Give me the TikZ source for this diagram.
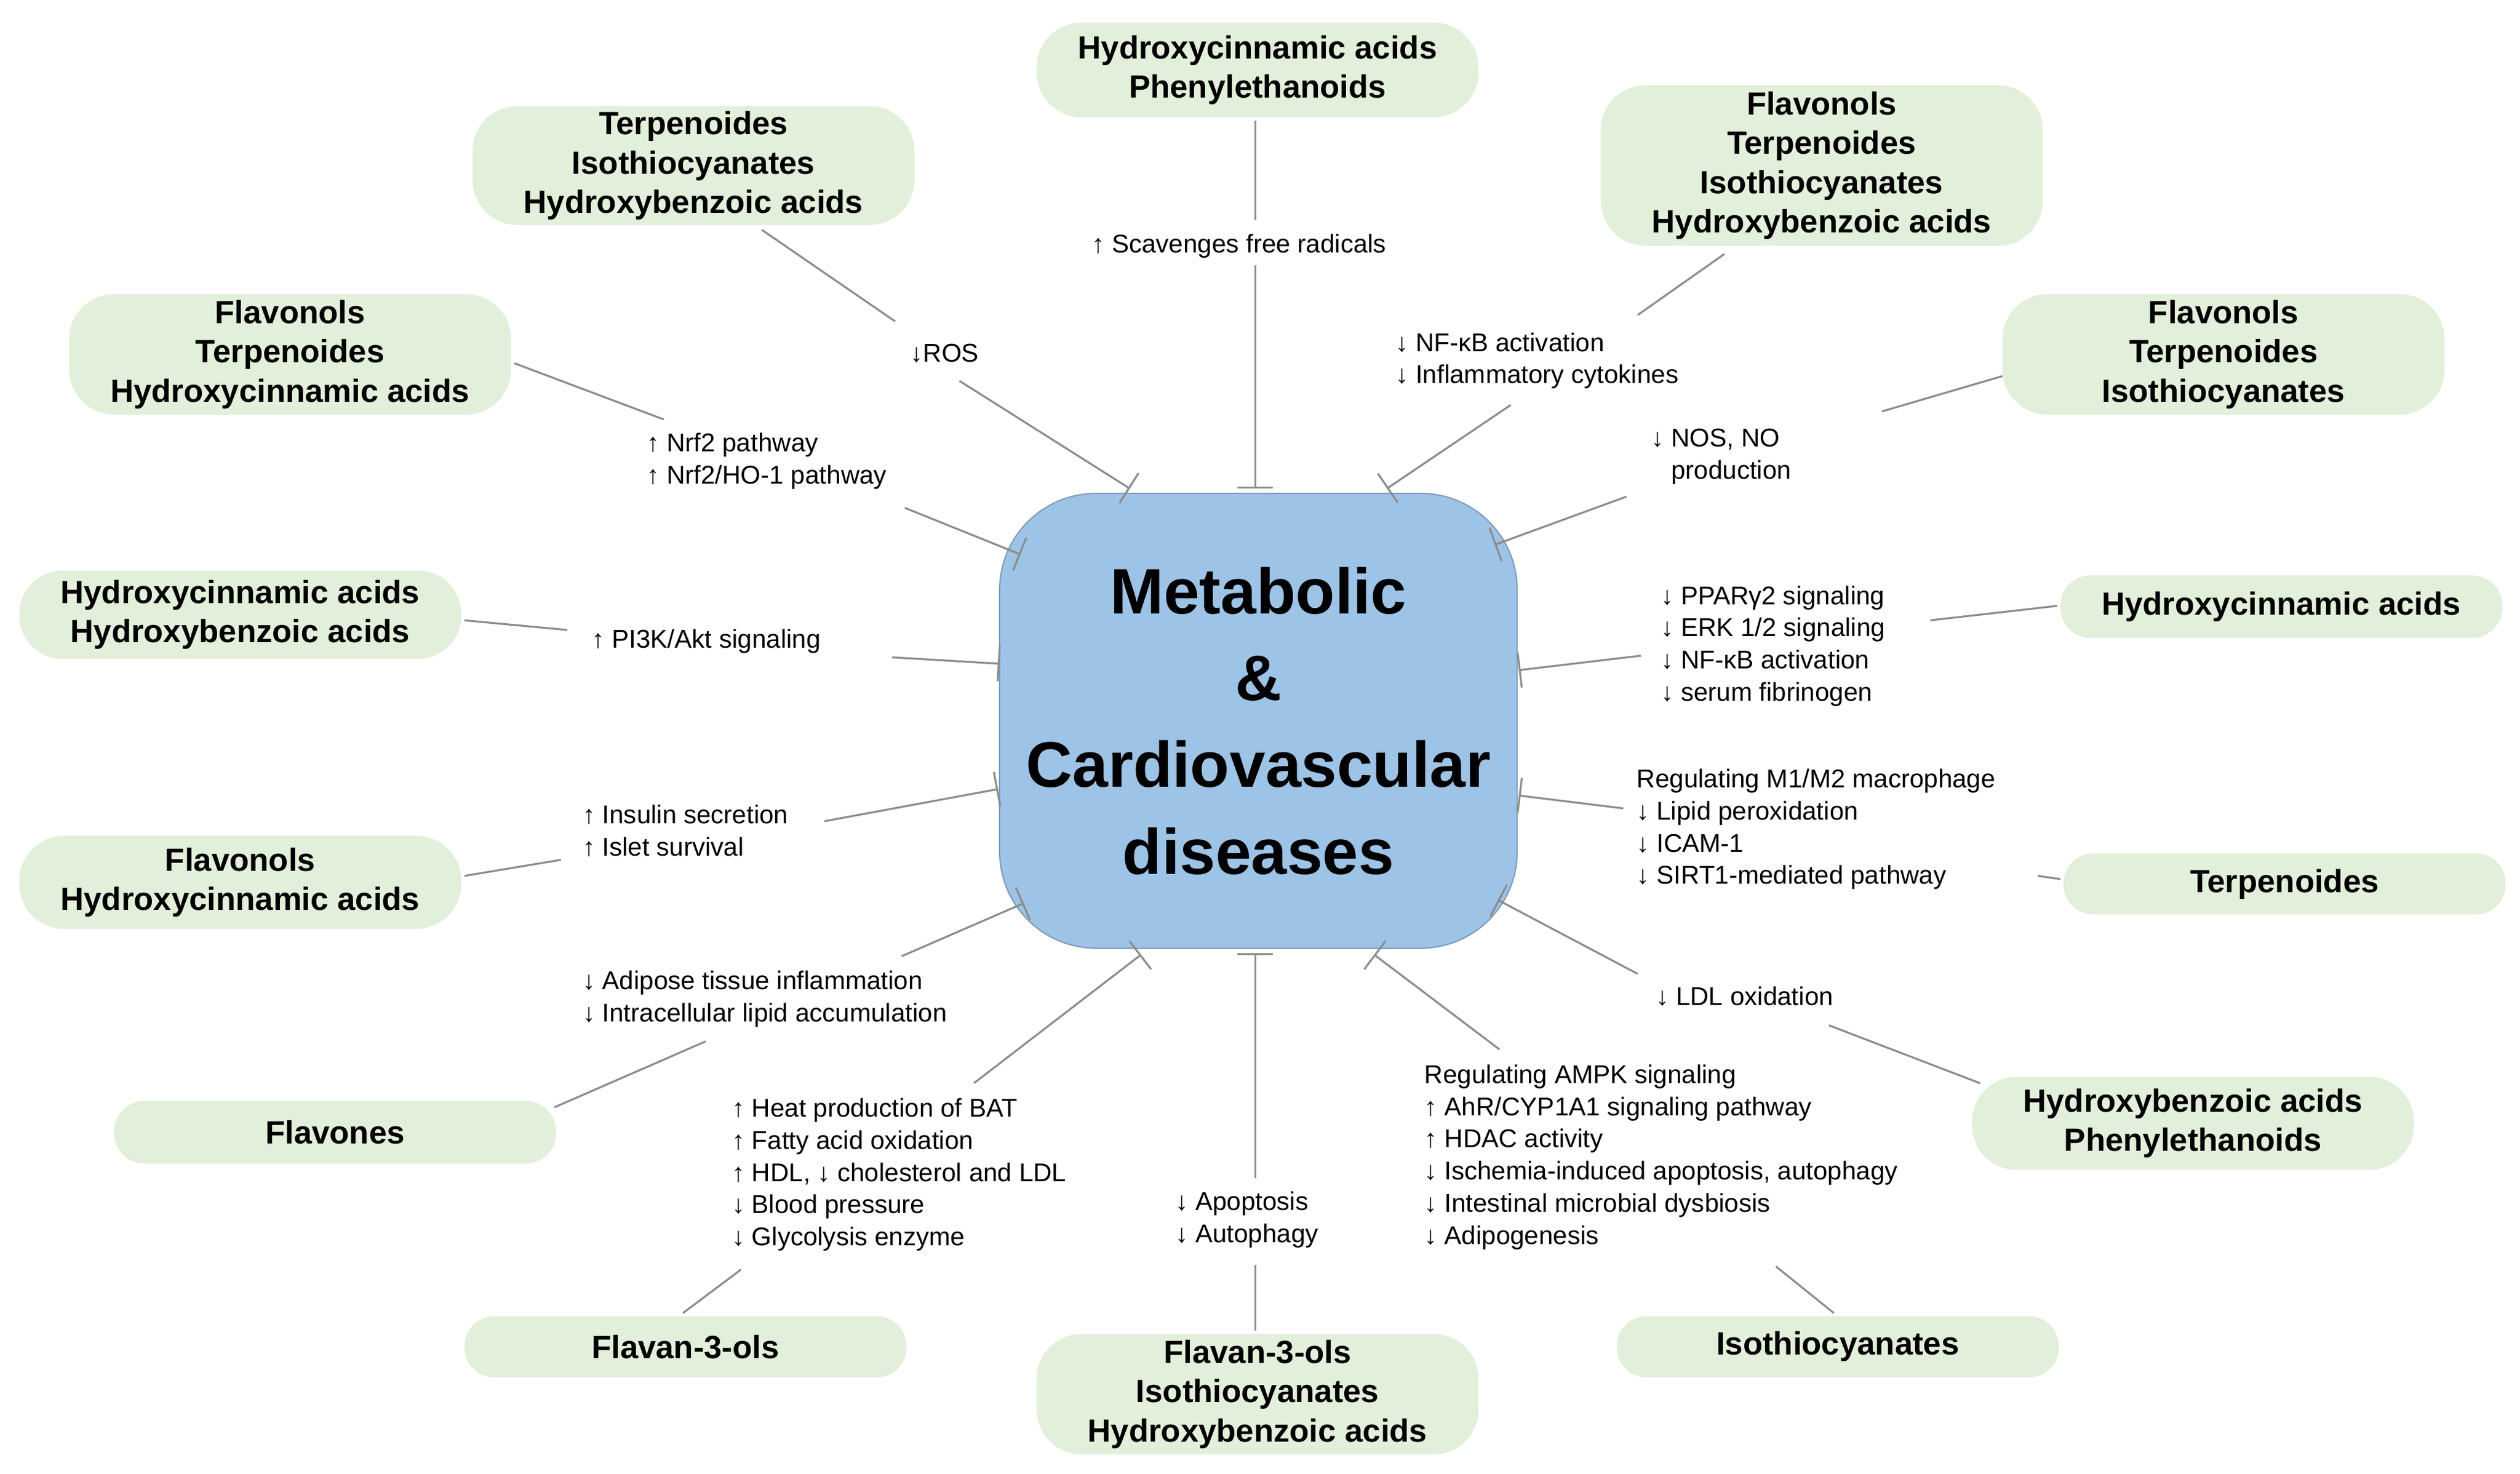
\documentclass[tikz,border=0pt]{standalone}
\usepackage{fontspec}
\setmainfont{Liberation Sans}
\usetikzlibrary{arrows.meta}
\definecolor{gfill}{HTML}{E2EFDA}
\definecolor{bfill}{HTML}{9DC3E6}
\definecolor{lgray}{HTML}{8C8C8C}
\begin{document}
\begin{tikzpicture}[x=0.5pt,y=-0.5pt,
  grn/.style={fill=gfill,draw=none,font=\fontsize{10}{12.2}\selectfont\bfseries,align=center,inner sep=0pt},
  lab/.style={anchor=west,align=left,font=\fontsize{8}{10}\selectfont,inner sep=0pt},
  ln/.style={draw=lgray,line width=0.6pt},
  inh/.style={ln,-{Bar[width=11pt,line width=0.6pt]}}]
\useasboundingbox (0,0) rectangle (1568,917);
\fill[white] (0,0) rectangle (1568,917);
% centre
\node[draw=bfill!80!black,line width=0.4pt,fill=bfill,rounded corners=30pt,minimum width=161pt,minimum height=141.5pt,align=center,font=\fontsize{20}{27}\selectfont\bfseries] (c) at (783,448.5) {Metabolic\\\&\\Cardiovascular\\diseases};
% green nodes
\newcommand\gnode[6]{\pgfmathsetmacro\rc{min(14,(#5-#4)*0.25-0.3)}%
\node[grn,rounded corners=\rc pt,minimum width={(#3-#2)*0.5pt},minimum height={(#5-#4)*0.5pt}] (#1) at ({(#2+#3)/2},{(#4+#5)/2}) {#6};}
\gnode{g1}{645}{920}{14}{73}{Hydroxycinnamic acids\\Phenylethanoids}
\gnode{g2}{294}{569}{66}{140}{Terpenoides\\Isothiocyanates\\Hydroxybenzoic acids}
\gnode{g3}{996}{1271}{53}{153}{Flavonols\\Terpenoides\\Isothiocyanates\\Hydroxybenzoic acids}
\gnode{g4}{43}{318}{183}{258}{Flavonols\\Terpenoides\\Hydroxycinnamic acids}
\gnode{g5}{1246}{1521}{183}{258}{Flavonols\\Terpenoides\\Isothiocyanates}
\gnode{g6}{12}{287}{355}{410}{Hydroxycinnamic acids\\Hydroxybenzoic acids}
\gnode{g7}{1282}{1557}{358}{397}{Hydroxycinnamic acids}
\gnode{g8}{12}{287}{520}{578}{Flavonols\\Hydroxycinnamic acids}
\gnode{g9}{1284}{1559}{531}{569}{Terpenoides}
\gnode{g10}{71}{346}{685}{724}{Flavones}
\gnode{g11}{1227}{1502}{670}{728}{Hydroxybenzoic acids\\Phenylethanoids}
\gnode{g12}{289}{564}{819}{857}{Flavan-3-ols}
\gnode{g13}{645}{920}{830}{905}{Flavan-3-ols\\Isothiocyanates\\Hydroxybenzoic acids}
\gnode{g14}{1006}{1281}{819}{857}{Isothiocyanates}
% labels
\node[lab] (l1) at (679,153) {↑ Scavenges free radicals};
\node[lab] (l2) at (566,220) {↓ROS};
\node[lab] (l3) at (868,224.5) {↓ NF-κB activation\\↓ Inflammatory cytokines};
\node[lab] (l4) at (1027,284) {↓ NOS, NO\\\phantom{↓ }production};
\node[lab] (l5) at (402,287) {↑ Nrf2 pathway\\↑ Nrf2/HO-1 pathway};
\node[lab] (l6) at (368,399) {↑ PI3K/Akt signaling};
\node[lab] (l7) at (1033,402) {↓ PPARγ2 signaling\\↓ ERK 1/2 signaling\\↓ NF-κB activation\\↓ serum fibrinogen};
\node[lab] (l8) at (362,517) {↑ Insulin secretion\\↑ Islet survival};
\node[lab] (l9) at (1018,516) {Regulating M1/M2 macrophage\\↓ Lipid peroxidation\\↓ ICAM-1\\↓ SIRT1-mediated pathway};
\node[lab] (l10) at (362,621.5) {↓ Adipose tissue inflammation\\↓ Intracellular lipid accumulation};
\node[lab] (l11) at (1030,620) {↓ LDL oxidation};
\node[lab] (l12) at (455,731) {↑ Heat production of BAT\\↑ Fatty acid oxidation\\↑ HDL, ↓ cholesterol and LDL\\↓ Blood pressure\\↓ Glycolysis enzyme};
\node[lab] (l13) at (731,759) {↓ Apoptosis\\↓ Autophagy};
\node[lab] (l14) at (886,720) {Regulating AMPK signaling\\↑ AhR/CYP1A1 signaling pathway\\↑ HDAC activity\\↓ Ischemia-induced apoptosis, autophagy\\↓ Intestinal microbial dysbiosis\\↓ Adipogenesis};
% connectors
\draw[ln] (781,75) -- (781,137); \draw[inh] (781,165) -- (781,304);
\draw[ln] (474,143) -- (557,200); \draw[inh] (597,237) -- (703,304);
\draw[ln] (1073,158) -- (1019,196); \draw[inh] (940,252) -- (863,304);
\draw[ln] (1246,234) -- (1171,256); \draw[inh] (1012,309) -- (930,339);
\draw[ln] (320,226) -- (413,261); \draw[inh] (563,316) -- (635,345);
\draw[ln] (289,386) -- (353,392); \draw[inh] (555,409) -- (622,413);
\draw[ln] (1280,377) -- (1201,386); \draw[inh] (1021,408) -- (945,417);
\draw[ln] (289,545) -- (349,535); \draw[inh] (513,511) -- (621,491);
\draw[ln] (1282,547) -- (1268,545); \draw[inh] (1010,503) -- (945,495);
\draw[ln] (345,689) -- (439,648); \draw[inh] (561,595) -- (637,562);
\draw[ln] (1232,674) -- (1138,638); \draw[inh] (1019,606) -- (932,560);
\draw[inh] (606,674) -- (710,594); \draw[ln] (461,790) -- (425,817);
\draw[inh] (781,733) -- (781,593); \draw[ln] (781,787) -- (781,828);
\draw[inh] (933,653) -- (855,594); \draw[ln] (1105,788) -- (1141,817);
\end{tikzpicture}
\end{document}
